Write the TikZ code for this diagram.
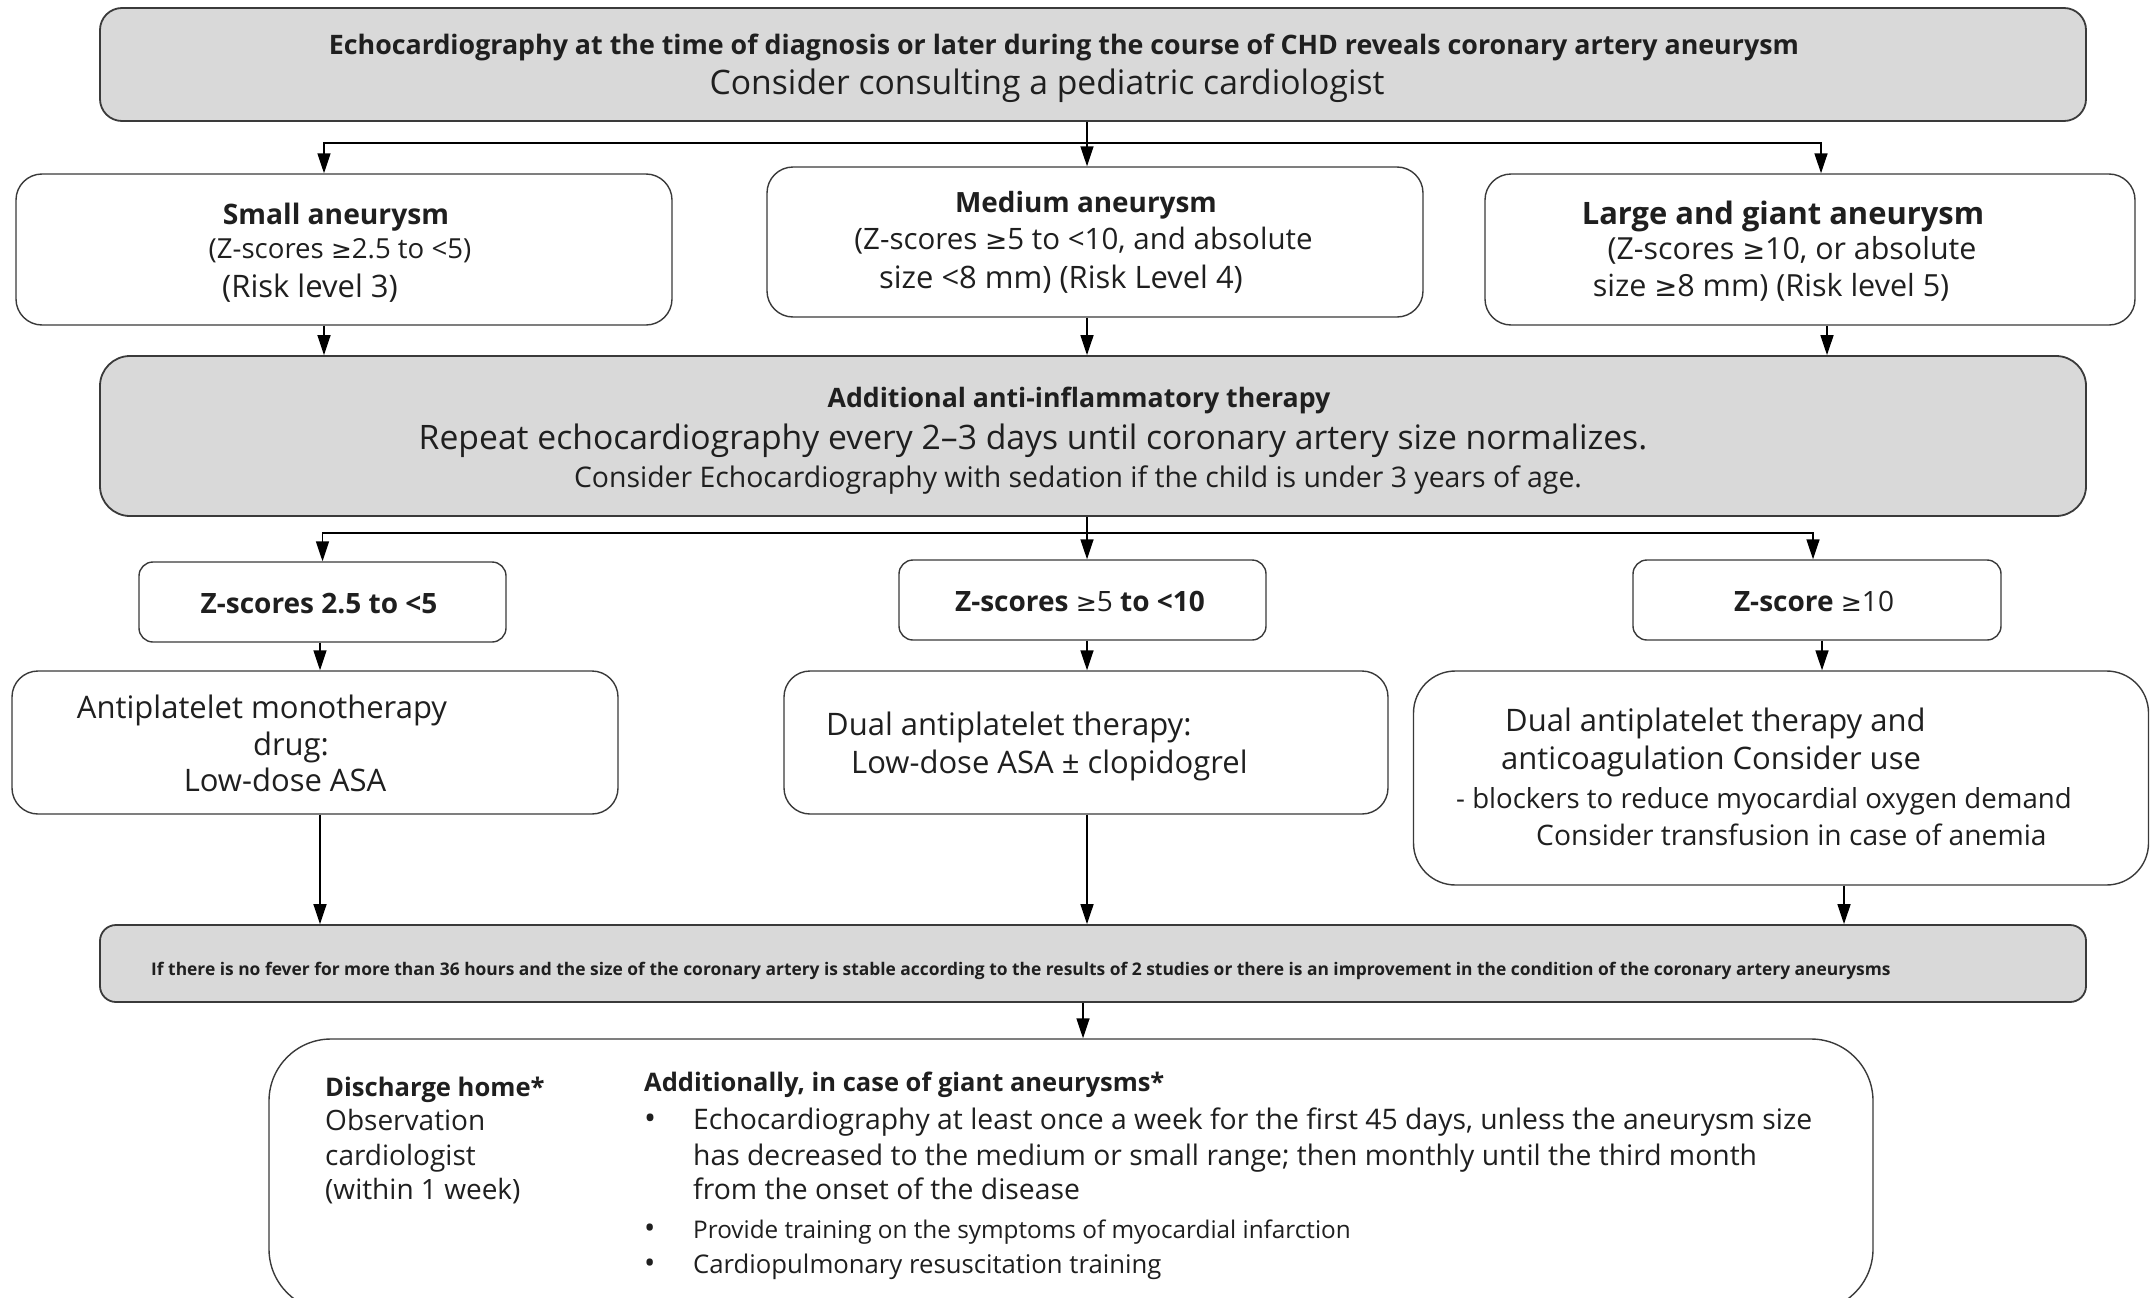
\documentclass[tikz,border=0pt]{standalone}
\usepackage{fontspec}
\setmainfont{Open Sans}
\newfontfamily\symfont{DejaVu Sans}
\usetikzlibrary{arrows.meta}
\definecolor{boxgrey}{HTML}{D9D9D9}
\definecolor{edge}{HTML}{3A3A3A}
\tikzset{
  greybox/.style={draw=edge, line width=1.8pt, fill=boxgrey, rounded corners=22pt, inner sep=0pt},
  whitebox/.style={draw=edge, line width=1.4pt, fill=white, inner sep=0pt},
  arr/.style={-{Triangle[length=20pt,width=13pt]}, line width=1.6pt, draw=black},
  plain/.style={line width=1.6pt, draw=black},
  tl/.style={inner sep=0pt, anchor=base, text=black!88},
  tw/.style={inner sep=0pt, anchor=base west, text=black!88},
}
\newcommand{\fsz}[1]{\fontsize{#1}{#1}\selectfont}
\newcommand{\mygeq}{{\symfont\scalebox{0.9}{≥}}}
\begin{document}
\begin{tikzpicture}[x=1pt,y=-1pt]
\useasboundingbox (0,0) rectangle (2152,1298);
% ---- boxes
\node[greybox, minimum width=1986pt, minimum height=113pt] (top) at (1093,64.5) {};
\node[whitebox, rounded corners=26pt, minimum width=656pt, minimum height=151pt] (small) at (344,249.5) {};
\node[whitebox, rounded corners=26pt, minimum width=656pt, minimum height=150pt] (medium) at (1095,242) {};
\node[whitebox, rounded corners=26pt, minimum width=650pt, minimum height=151pt] (large) at (1810,249.5) {};
\node[greybox, rounded corners=30pt, minimum width=1986pt, minimum height=160pt] (therapy) at (1093,436) {};
\node[whitebox, rounded corners=14pt, minimum width=367pt, minimum height=80pt] (z1) at (322.5,602) {};
\node[whitebox, rounded corners=14pt, minimum width=367pt, minimum height=80pt] (z2) at (1082.5,600) {};
\node[whitebox, rounded corners=14pt, minimum width=368pt, minimum height=80pt] (z3) at (1817,600) {};
\node[whitebox, rounded corners=26pt, minimum width=606pt, minimum height=143pt] (t1) at (315,742.5) {};
\node[whitebox, rounded corners=26pt, minimum width=604pt, minimum height=143pt] (t2) at (1086,742.5) {};
\node[whitebox, rounded corners=42pt, minimum width=735pt, minimum height=214pt] (t3) at (1781,778) {};
\node[greybox, rounded corners=16pt, minimum width=1986pt, minimum height=77pt] (cond) at (1093,963.5) {};
\node[whitebox, rounded corners=62pt, minimum width=1604pt, minimum height=272pt] (home) at (1071,1175) {};
% ---- connectors
\coordinate (j1) at (1087,143);
\coordinate (j2) at (1087,533);
\draw[plain] ([xshift=-6pt]top.south) -- (j1);
\draw[arr] (j1) -| ([xshift=-20pt]small.north);
\draw[arr] (j1) -- ([xshift=-8pt]medium.north);
\draw[arr] (j1) -| ([xshift=11pt]large.north);
\draw[arr] ([xshift=-20pt]small.south) -- ([xshift=-769pt]therapy.north);
\draw[arr] ([xshift=-8pt]medium.south) -- ([xshift=-6pt]therapy.north);
\draw[arr] ([xshift=17pt]large.south) -- ([xshift=734pt]therapy.north);
\draw[plain] ([xshift=-6pt]therapy.south) -- (j2);
\draw[arr] (j2) -| (z1.north);
\draw[arr] (j2) -| ([xshift=4.5pt]z2.north);
\draw[arr] (j2) -| ([xshift=-4pt]z3.north);
\draw[arr] ([xshift=-2.5pt]z1.south) -- ([xshift=5pt]t1.north);
\draw[arr] ([xshift=4.5pt]z2.south) -- ([xshift=1pt]t2.north);
\draw[arr] ([xshift=5pt]z3.south) -- ([xshift=41pt]t3.north);
\draw[arr] ([xshift=5pt]t1.south) -- ([xshift=-773pt]cond.north);
\draw[arr] ([xshift=1pt]t2.south) -- ([xshift=-6pt]cond.north);
\draw[arr] ([xshift=63pt]t3.south) -- ([xshift=751pt]cond.north);
\draw[arr] ([xshift=-10pt]cond.south) -- ([xshift=12pt]home.north);
% ---- texts: top
\node[tl] (a1) at (1064,55) {\fsz{26.8}\bfseries Echocardiography at the time of diagnosis or later during the course of CHD reveals coronary artery aneurysm};
\node[tl] (a2) at (1047,94) {\fsz{33.7}Consider consulting a pediatric cardiologist};
% small
\node[tl] (b1) at (336,224) {\fsz{28.2}\bfseries Small aneurysm};
\node[tl] (b2) at (340,258) {\fsz{27.6}(Z-scores \mygeq2.5 to <5)};
\node[tl] (b3) at (310,297) {\fsz{31}(Risk level 3)};
% medium
\node[tl] (c1) at (1086,212) {\fsz{27.9}\bfseries Medium aneurysm};
\node[tl] (c2) at (1083.5,249) {\fsz{29.5}(Z-scores \mygeq5 to <10, and absolute};
\node[tl] (c3) at (1061,288) {\fsz{30.9}size <8 mm) (Risk Level 4)};
% large
\node[tl] (d1) at (1783,224) {\fsz{30.9}\bfseries Large and giant aneurysm};
\node[tl] (d2) at (1792,259) {\fsz{30.4}(Z-scores \mygeq10, or absolute};
\node[tl] (d3) at (1771,296) {\fsz{30.5}size \mygeq8 mm) (Risk level 5)};
% therapy
\node[tl] (e1) at (1079,407) {\fsz{26.7}\bfseries Additional anti-inflammatory therapy};
\node[tl] (e2) at (1033,449) {\fsz{33.7}Repeat echocardiography every 2–3 days until coronary artery size normalizes.};
\node[tl] (e3) at (1078,487) {\fsz{28.4}Consider Echocardiography with sedation if the child is under 3 years of age.};
% z boxes
\node[tl] (f1) at (319,613) {\fsz{28}\bfseries Z-scores 2.5 to <5};
\node[tl] (f2) at (1080,611) {\fsz{28}\textbf{Z-scores} \mygeq5 \textbf{to <10}};
\node[tl] (f3) at (1814,611) {\fsz{28}\textbf{Z-score} \mygeq10};
% t1
\node[tl] (g1) at (262,718) {\fsz{31}Antiplatelet monotherapy};
\node[tl] (g2) at (291,755) {\fsz{31}drug:};
\node[tl] (g3) at (285,791) {\fsz{31}Low-dose ASA};
% t2
\node[tw] (h1) at (826,735) {\fsz{31}Dual antiplatelet therapy:};
\node[tw] (h2) at (851,773) {\fsz{31}Low-dose ASA ± clopidogrel};
% t3
\node[tw] (i1) at (1505,731) {\fsz{31}Dual antiplatelet therapy and};
\node[tw] (i2) at (1501,769) {\fsz{31}anticoagulation Consider use};
\node[tw] (i3) at (1456,808) {\fsz{27.6}- blockers to reduce myocardial oxygen demand};
\node[tw] (i4) at (1536,845) {\fsz{28.2}Consider transfusion in case of anemia};
% condition
\node[tw] (k1) at (151,975) {\fsz{17.4}\bfseries If there is no fever for more than 36 hours and the size of the coronary artery is stable according to the results of 2 studies or there is an improvement in the condition of the coronary artery aneurysms};
% home
\node[tw] (m1) at (325,1096) {\fsz{25.6}\bfseries Discharge home*};
\node[tw] (m2) at (325,1130) {\fsz{28}Observation};
\node[tw] (m3) at (325,1165) {\fsz{28}cardiologist};
\node[tw] (m4) at (325,1199) {\fsz{28}(within 1 week)};
\node[tw] (n0) at (644,1091) {\fsz{25.5}\bfseries Additionally, in case of giant aneurysms*};
\node[tw] (p1) at (644,1129) {\fsz{32}•};
\node[tw] (p2) at (644,1238) {\fsz{30}•};
\node[tw] (p3) at (644,1273) {\fsz{30}•};
\node[tw] (n1) at (693,1129) {\fsz{28.3}Echocardiography at least once a week for the first 45 days, unless the aneurysm size};
\node[tw] (n2) at (693,1165) {\fsz{28.3}has decreased to the medium or small range; then monthly until the third month};
\node[tw] (n3) at (693,1199) {\fsz{28.3}from the onset of the disease};
\node[tw] (n4) at (693,1238) {\fsz{24.3}Provide training on the symptoms of myocardial infarction};
\node[tw] (n5) at (693,1273) {\fsz{25.7}Cardiopulmonary resuscitation training};
\end{tikzpicture}
\end{document}
